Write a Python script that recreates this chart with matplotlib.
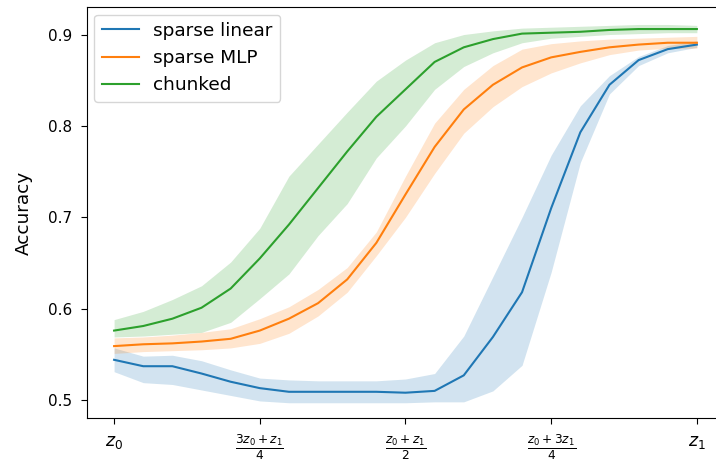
import numpy as np
import matplotlib.pyplot as plt

# interpolation position between z0 and z1
t = np.linspace(0, 1, 21)

linear_mean = [0.544, 0.537, 0.537, 0.529, 0.520, 0.513, 0.509, 0.509, 0.509, 0.509, 0.508,
               0.510, 0.527, 0.569, 0.618, 0.710, 0.793, 0.845, 0.872, 0.884, 0.889]
linear_low = [0.531, 0.519, 0.517, 0.511, 0.505, 0.499, 0.497, 0.497, 0.497, 0.497, 0.497,
              0.498, 0.498, 0.510, 0.538, 0.640, 0.760, 0.835, 0.866, 0.880, 0.886]
linear_high = [0.557, 0.548, 0.549, 0.543, 0.533, 0.524, 0.522, 0.521, 0.521, 0.521, 0.523,
               0.529, 0.570, 0.635, 0.700, 0.768, 0.822, 0.855, 0.876, 0.888, 0.893]

mlp_mean = [0.559, 0.561, 0.562, 0.564, 0.567, 0.576, 0.589, 0.606, 0.632, 0.672, 0.725,
            0.777, 0.818, 0.845, 0.864, 0.875, 0.881, 0.886, 0.889, 0.891, 0.891]
mlp_low = [0.551, 0.553, 0.554, 0.555, 0.557, 0.562, 0.573, 0.592, 0.618, 0.658, 0.700,
           0.748, 0.792, 0.821, 0.843, 0.858, 0.869, 0.878, 0.883, 0.885, 0.885]
mlp_high = [0.568, 0.569, 0.571, 0.574, 0.578, 0.589, 0.602, 0.621, 0.645, 0.684, 0.745,
            0.803, 0.840, 0.866, 0.884, 0.890, 0.893, 0.895, 0.896, 0.897, 0.898]

chunk_mean = [0.576, 0.581, 0.589, 0.601, 0.622, 0.655, 0.692, 0.732, 0.772, 0.810, 0.840,
              0.870, 0.886, 0.895, 0.901, 0.902, 0.903, 0.905, 0.906, 0.906, 0.906]
chunk_low = [0.569, 0.570, 0.572, 0.574, 0.585, 0.611, 0.638, 0.680, 0.715, 0.765, 0.800,
             0.840, 0.865, 0.880, 0.891, 0.896, 0.898, 0.900, 0.901, 0.902, 0.902]
chunk_high = [0.588, 0.597, 0.610, 0.625, 0.651, 0.688, 0.745, 0.780, 0.815, 0.849, 0.872,
              0.891, 0.900, 0.904, 0.907, 0.908, 0.909, 0.910, 0.911, 0.911, 0.910]

tick_pos = [0, 0.25, 0.5, 0.75, 1]
tick_labels = [r'$z_0$', r'$\frac{3z_0 + z_1}{4}$', r'$\frac{z_0 + z_1}{2}$',
               r'$\frac{z_0 + 3z_1}{4}$', r'$z_1$']

plt.rcParams['font.size'] = 11

fig = plt.figure(figsize=(7.16, 4.68), dpi=100)
ax = fig.add_axes([0.1215, 0.1068, 0.8925, 0.878])

series = [
    ('sparse linear', linear_mean, linear_low, linear_high, 'C0'),
    ('sparse MLP', mlp_mean, mlp_low, mlp_high, 'C1'),
    ('chunked', chunk_mean, chunk_low, chunk_high, 'C2'),
]
for name, mean, low, high, col in series:
    ax.plot(t, mean, color=col, lw=1.5, label=name)
    ax.fill_between(t, low, high, color=col, alpha=0.2, lw=0)

ax.set_xlim(-0.0465, 1.05)
ax.set_ylim(0.4803, 0.930)
ax.set_xticks(tick_pos)
ax.set_xticklabels(tick_labels)
ax.set_yticks([0.5, 0.6, 0.7, 0.8, 0.9])
ax.tick_params(axis='both', length=4.5, pad=6)
ax.tick_params(axis='x', labelsize=12.5)
ax.set_ylabel('Accuracy', fontsize=13.3, labelpad=11)
ax.spines['right'].set_visible(False)
ax.legend(loc='upper left', fontsize=13.3, borderaxespad=0.4)

fig.savefig('out.png', dpi=100)
